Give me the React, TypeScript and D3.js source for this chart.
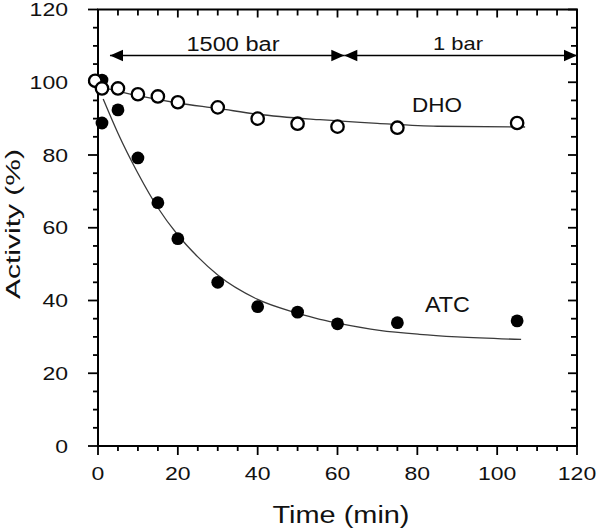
import React from "react";
import * as d3 from "d3";

const xTicks = [0, 20, 40, 60, 80, 100, 120];
const yTicks = [0, 20, 40, 60, 80, 100, 120];

const dhoTime = [-0.7, 1, 5, 10, 15, 20, 30, 40, 50, 60, 75, 105];
const dhoActivity = [100.4, 98.3, 98.3, 96.7, 96.1, 94.5, 93.1, 90.0, 88.6, 87.8, 87.5, 88.8];

const atcTime = [1, 1, 5, 10, 15, 20, 30, 40, 50, 60, 75, 105];
const atcActivity = [100.6, 88.8, 92.4, 79.2, 66.9, 57, 45, 38.3, 36.8, 33.6, 33.9, 34.4];

const dhoFitTime = [1, 10, 20, 30, 40, 55.6, 70, 85, 107];
const dhoFitActivity = [98.6, 96.3, 94.3, 92.8, 91.2, 89.7, 88.7, 87.9, 87.7];

const atcFitTime = [1.3, 5, 10, 15, 20, 25, 30, 40, 50, 55.6, 60, 70.5, 80.5, 90, 106];
const atcFitActivity = [95.4, 86, 75, 65.5, 58, 52, 47, 40.3, 36.5, 34.8, 33.8, 31.8, 30.7, 30, 29.3];

const phaseStart = [3, 61.7];
const phaseEnd = [61.7, 120];
const phaseLabels = ["1500 bar", "1 bar"];
const seriesLabels = ["DHO", "ATC"];

const FONT = "'Liberation Sans', Arial, sans-serif";

export default function App() {
  const W = 600, H = 532;
  const x = d3.scaleLinear().domain([0, 120]).range([98, 577]);
  const y = d3.scaleLinear().domain([0, 120]).range([446, 9.5]);
  const [x0, x1] = x.range();
  const [y0, y1] = y.range();

  const minor = d3.range(0, 121, 5);
  const line = d3
    .line<[number, number]>()
    .x((d) => x(d[0]))
    .y((d) => y(d[1]))
    .curve(d3.curveMonotoneX);

  const dhoFit = dhoFitTime.map((t, i) => [t, dhoFitActivity[i]] as [number, number]);
  const atcFit = atcFitTime.map((t, i) => [t, atcFitActivity[i]] as [number, number]);

  const arrowY = 55.5;
  const ahL = 13, ahH = 5.8;
  const head = (tipX: number, dir: number) =>
    `M${tipX},${arrowY} L${tipX - dir * ahL},${arrowY - ahH} L${tipX - dir * ahL},${arrowY + ahH} Z`;

  const digitW = 12.8;

  return (
    <svg width={W} height={H} style={{ position: "absolute", left: 0, top: 0, background: "#fff" }}>
      {/* fitted curves */}
      <path d={line(dhoFit) || ""} fill="none" stroke="#3a3a3a" strokeWidth={1.3} />
      <path d={line(atcFit) || ""} fill="none" stroke="#3a3a3a" strokeWidth={1.3} />

      {/* axes frame */}
      <rect x={x0} y={y1} width={x1 - x0} height={y0 - y1} fill="none" stroke="#000" strokeWidth={2} />

      {/* left ticks */}
      {minor.map((v) => {
        const major = v % 20 === 0;
        return (
          <line key={"l" + v} x1={x0 - (major ? 10 : 5)} x2={x0} y1={y(v)} y2={y(v)} stroke="#000" strokeWidth={1.8} />
        );
      })}
      {/* right ticks */}
      {minor.map((v) => {
        const major = v % 20 === 0;
        return (
          <line key={"r" + v} x1={x1 - (major ? 9 : 6)} x2={x1} y1={y(v)} y2={y(v)} stroke="#000" strokeWidth={1.8} />
        );
      })}
      {/* bottom ticks */}
      {minor.map((v) => {
        const major = v % 20 === 0;
        return (
          <line key={"b" + v} x1={x(v)} x2={x(v)} y1={y0} y2={y0 + (major ? 9 : 5)} stroke="#000" strokeWidth={1.8} />
        );
      })}
      {/* top ticks */}
      {minor.map((v) => {
        const major = v % 20 === 0;
        return (
          <line key={"t" + v} x1={x(v)} x2={x(v)} y1={y1} y2={y1 + (major ? 8 : 6)} stroke="#000" strokeWidth={1.8} />
        );
      })}

      {/* y tick labels */}
      {yTicks.map((v) => {
        const s = String(v);
        return (
          <text
            key={"yl" + v}
            x={68}
            y={y(v) + 6.5}
            textAnchor="end"
            fontFamily={FONT}
            fontSize={18.5}
            textLength={s.length * digitW}
            lengthAdjust="spacingAndGlyphs"
            fill="#111"
          >
            {s}
          </text>
        );
      })}
      {/* x tick labels */}
      {xTicks.map((v) => {
        const s = String(v);
        return (
          <text
            key={"xl" + v}
            x={x(v) - (s.length * digitW) / 2}
            y={480}
            fontFamily={FONT}
            fontSize={19}
            textLength={s.length * digitW}
            lengthAdjust="spacingAndGlyphs"
            fill="#111"
          >
            {s}
          </text>
        );
      })}

      {/* axis titles */}
      <text
        x={341 - 68.5}
        y={523}
        fontFamily={FONT}
        fontSize={23}
        textLength={137}
        lengthAdjust="spacingAndGlyphs"
        fill="#111"
      >
        Time (min)
      </text>
      <text
        transform={`translate(20,${224 + 75}) rotate(-90)`}
        fontFamily={FONT}
        fontSize={21}
        textLength={150}
        lengthAdjust="spacingAndGlyphs"
        fill="#111"
      >
        Activity (%)
      </text>

      {/* pressure phase arrows */}
      {phaseStart.map((s, i) => (
        <g key={"ph" + i}>
          <line x1={x(s)} x2={x(phaseEnd[i])} y1={arrowY} y2={arrowY} stroke="#000" strokeWidth={1.5} />
          <path d={head(x(s), -1)} fill="#000" />
          <path d={head(x(phaseEnd[i]), 1)} fill="#000" />
        </g>
      ))}
      <text x={233 - 46.5} y={50.5} fontFamily={FONT} fontSize={19.5} textLength={93} lengthAdjust="spacingAndGlyphs" fill="#111">
        {phaseLabels[0]}
      </text>
      <text x={458 - 25} y={49.5} fontFamily={FONT} fontSize={18.6} textLength={50} lengthAdjust="spacingAndGlyphs" fill="#111">
        {phaseLabels[1]}
      </text>

      {/* series labels */}
      <text x={437 - 25} y={111.5} fontFamily={FONT} fontSize={21} textLength={50} lengthAdjust="spacingAndGlyphs" fill="#111">
        {seriesLabels[0]}
      </text>
      <text x={447.5 - 22.5} y={311.5} fontFamily={FONT} fontSize={22} textLength={45} lengthAdjust="spacingAndGlyphs" fill="#111">
        {seriesLabels[1]}
      </text>

      {/* ATC points */}
      {atcTime.map((t, i) => (
        <circle key={"a" + i} cx={x(t)} cy={y(atcActivity[i])} r={6.4} fill="#000" />
      ))}
      {/* DHO points */}
      {dhoTime.map((t, i) => (
        <circle key={"d" + i} cx={x(t)} cy={y(dhoActivity[i])} r={6.2} fill="#fff" stroke="#000" strokeWidth={2.3} />
      ))}
    </svg>
  );
}
